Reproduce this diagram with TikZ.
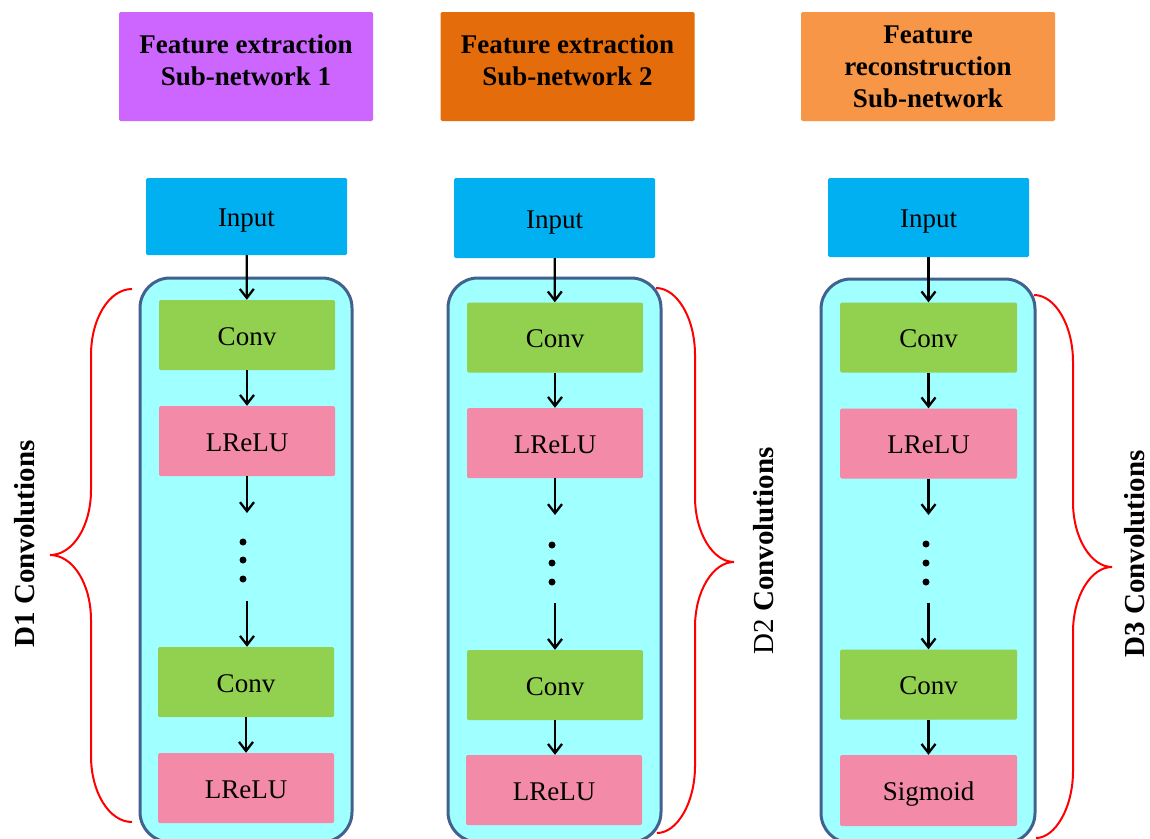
\documentclass[tikz,border=0pt]{standalone}
\usepackage{fontspec}
\setmainfont{Liberation Serif}
\usetikzlibrary{arrows.meta}
\definecolor{hdrA}{HTML}{CC66FF}
\definecolor{hdrB}{HTML}{E46C0A}
\definecolor{hdrC}{HTML}{F79646}
\definecolor{inblue}{HTML}{00B0F0}
\definecolor{cyanbg}{HTML}{A0FFFF}
\definecolor{outline}{HTML}{41618F}
\definecolor{convgreen}{HTML}{92D050}
\definecolor{actpink}{HTML}{F28AA8}
\tikzset{
  hdr/.style={minimum width=254, minimum height=109, inner sep=0, align=center,
    rounded corners=1.5, font=\fontsize{27}{32}\selectfont\bfseries},
  blk/.style={minimum width=176, minimum height=70, inner sep=0, rounded corners=1.5,
    text height=20, text depth=0, font=\fontsize{27}{32}\selectfont},
  inbox/.style={blk, fill=inblue, minimum width=201, minimum height=78},
  convbox/.style={blk, fill=convgreen},
  actbox/.style={blk, fill=actpink},
  outerbox/.style={draw=outline, line width=3, fill=cyanbg, rounded corners=30,
    minimum width=212, minimum height=564, inner sep=0},
  flow/.style={-{Straight Barb[length=9pt,width=14pt]}, line width=2.3},
  bracepath/.style={draw=red, line width=2},
  dotnode/.style={circle, fill=black, minimum size=7, inner sep=0},
  dlabel/.style={rotate=90, inner sep=0, font=\fontsize{29}{34}\selectfont}
}
\begin{document}
\begin{tikzpicture}[x=1pt,y=-1pt]
\clip (0,0) rectangle (1150,838);
\fill[white] (0,0) rectangle (1150,838);

% headers
\node[hdr, fill=hdrA, text depth=12] (h1) at (246,66.5) {Feature extraction\\Sub-network 1};
\node[hdr, fill=hdrB, text depth=12] (h2) at (567.5,66.5) {Feature extraction\\Sub-network 2};
\node[hdr, fill=hdrC] (h3) at (928,66.5) {Feature\\reconstruction\\Sub-network};

% outer boxes
\node[outerbox] (o1) at (246,560) {};
\node[outerbox, minimum width=213] (o2) at (554.5,560) {};
\node[outerbox, minimum width=214] (o3) at (928,561) {};

% column 1
\node[inbox, minimum height=77] (in1) at (246.5,216.5) {Input};
\node[convbox] (c1a) at (247,335) {Conv};
\node[actbox] (r1a) at (247,441) {LReLU};
\coordinate (e1) at (247,513);
\coordinate (s1) at (247,601);
\node[dotnode] (d1a) at (243,542) {};
\node[dotnode] (d1b) at (243,560) {};
\node[dotnode] (d1c) at (243,579) {};
\node[convbox] (c1b) at (246,682) {Conv};
\node[actbox] (r1b) at (246,788) {LReLU};
\draw[flow] (in1) -- (c1a);
\draw[flow] (c1a) -- (r1a);
\draw[flow] (r1a) -- (e1);
\draw[flow] (s1) -- (s1 |- c1b.north);
\draw[flow] (c1b) -- (r1b);

% column 2
\node[inbox, minimum height=80] (in2) at (554.5,218) {Input};
\node[convbox] (c2a) at (555,337.5) {Conv};
\node[actbox] (r2a) at (555,443) {LReLU};
\coordinate (e2) at (555,515);
\coordinate (s2) at (555,603);
\node[dotnode] (d2a) at (552,545) {};
\node[dotnode] (d2b) at (552,563) {};
\node[dotnode] (d2c) at (552,582) {};
\node[convbox] (c2b) at (555,685) {Conv};
\node[actbox] (r2b) at (554,790) {LReLU};
\draw[flow] (in2) -- (c2a);
\draw[flow] (c2a) -- (r2a);
\draw[flow] (r2a) -- (e2);
\draw[flow] (s2) -- (c2b);
\draw[flow] (c2b) -- (c2b |- r2b.north);

% column 3
\node[inbox, minimum height=79] (in3) at (928.5,217.5) {Input};
\node[convbox, minimum width=177] (c3a) at (928.5,337.5) {Conv};
\node[actbox, minimum width=177] (r3a) at (928.5,443.5) {LReLU};
\coordinate (e3) at (928.5,515);
\coordinate (s3) at (928.5,603);
\node[dotnode] (d3a) at (926,544) {};
\node[dotnode] (d3b) at (926,563) {};
\node[dotnode] (d3c) at (926,582) {};
\node[convbox, minimum width=177] (c3b) at (928.5,684.5) {Conv};
\node[actbox, minimum width=177, minimum height=71] (r3b) at (928.5,790.5) {Sigmoid};
\draw[flow] (in3) -- (c3a);
\draw[flow] (c3a) -- (r3a);
\draw[flow] (r3a) -- (e3);
\draw[flow] (s3) -- (c3b);
\draw[flow] (c3b) -- (r3b);

% braces
\draw[bracepath] (132,289) .. controls (109,289) and (91,319) .. (91,355)
  -- (91,490) .. controls (91,526) and (73,555) .. (50,555)
  .. controls (73,555) and (91,584) .. (91,620)
  -- (91,756) .. controls (91,792) and (109,822) .. (132,822);
\draw[bracepath] (656,288) .. controls (677,288) and (695,318) .. (695,355)
  -- (695,497) .. controls (695,533) and (713,562) .. (734,562)
  .. controls (713,562) and (695,591) .. (695,627)
  -- (695,766) .. controls (695,803) and (677,833) .. (657,833);
\draw[bracepath] (1034,295) .. controls (1055,295) and (1073,325) .. (1073,362)
  -- (1073,502) .. controls (1073,538) and (1091,567) .. (1112,567)
  .. controls (1091,567) and (1073,596) .. (1073,632)
  -- (1073,771) .. controls (1073,808) and (1055,838) .. (1036,838);

% brace labels
\node[dlabel] (l1) at (25,544) {\bfseries D1 Convolutions};
\node[dlabel] (l2) at (764,551) {D2 \bfseries Convolutions};
\node[dlabel] (l3) at (1135,554) {\bfseries D3 Convolutions};
\end{tikzpicture}
\end{document}
